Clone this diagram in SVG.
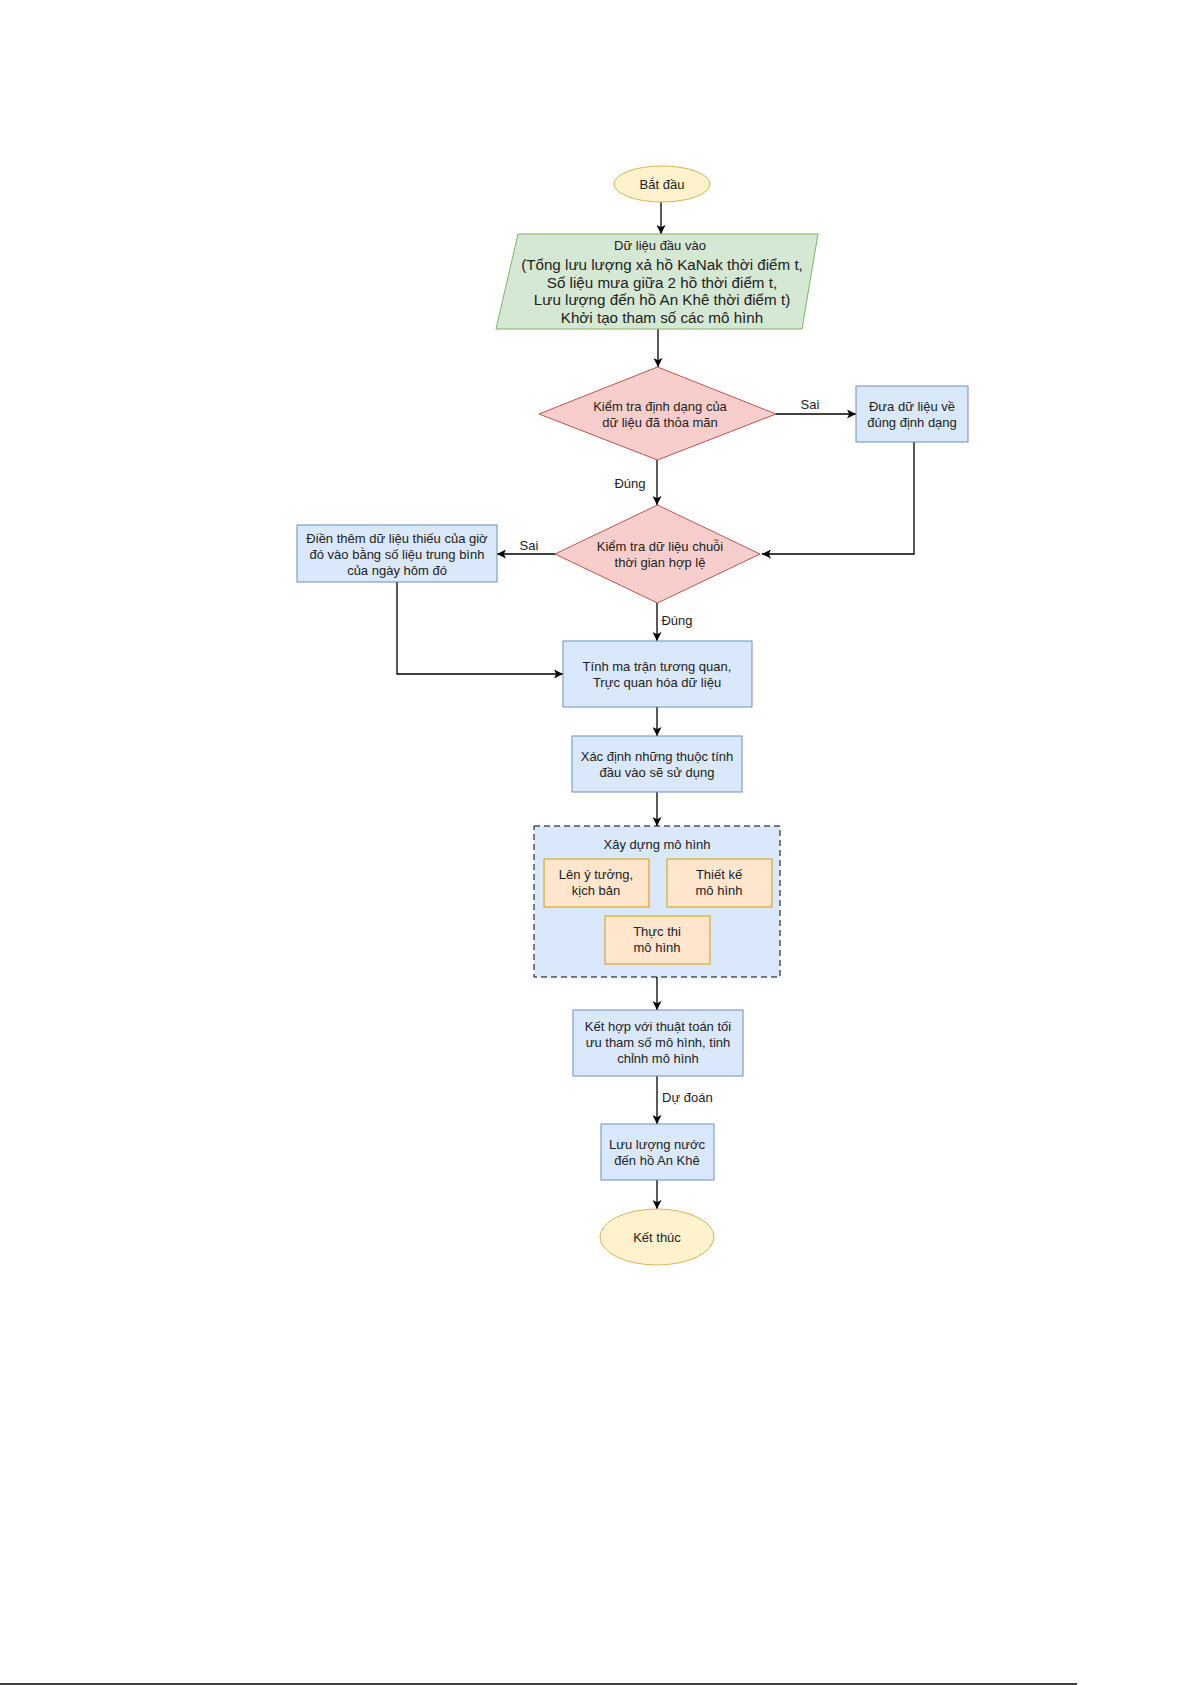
<svg xmlns="http://www.w3.org/2000/svg" width="1192" height="1685" viewBox="0 0 1192 1685">
<defs>
<marker id="arr" viewBox="0 0 10 10" refX="10" refY="5" markerWidth="9" markerHeight="9" markerUnits="userSpaceOnUse" orient="auto">
<path d="M0,0 L10,5 L0,10 L2.5,5 Z" fill="#000"/>
</marker>
<style>
text{font-family:"Liberation Sans",Arial,sans-serif;font-size:13px;fill:#222;text-anchor:middle}
.big{font-size:15.2px}
.lbl{font-size:13px}
.yel{fill:#fff2cc;stroke:#d6b656;stroke-width:1}
.grn{fill:#d5e8d4;stroke:#82b366;stroke-width:1}
.red{fill:#f8cecc;stroke:#b85450;stroke-width:1}
.blu{fill:#dae8fc;stroke:#6c8ebf;stroke-width:1}
.org{fill:#ffe6cc;stroke:#d79b00;stroke-width:1}
.cont{fill:#dae8fc;stroke:#000;stroke-width:1;stroke-dasharray:6,4}
.c{fill:none;stroke:#000;stroke-width:1.3;marker-end:url(#arr)}
</style>
</defs>
<rect width="1192" height="1685" fill="#fff"/>

<g id="connectors">
<path class="c" d="M661,202 V234"/>
<path class="c" d="M658,329 V367"/>
<path class="c" d="M776,414 H856"/>
<path class="c" d="M657,460 V505"/>
<path class="c" d="M914,442 V554 H762"/>
<path class="c" d="M555,554 H497"/>
<path class="c" d="M657,603 V641"/>
<path class="c" d="M397,582 V674 H563"/>
<path class="c" d="M657,707 V736"/>
<path class="c" d="M657,792 V826"/>
<path class="c" d="M657,977 V1010"/>
<path class="c" d="M657,1076 V1124"/>
<path class="c" d="M657,1180 V1209"/>
<text class="lbl" x="810" y="409">Sai</text>
<text class="lbl" x="630" y="488">Đúng</text>
<text class="lbl" x="529" y="550">Sai</text>
<text class="lbl" x="677" y="625">Đúng</text>
<text class="lbl" x="662" y="1102" style="text-anchor:start">Dự đoán</text>
</g>

<g id="start">
<ellipse class="yel" cx="662" cy="184" rx="48" ry="18"/>
<text x="662" y="189">Bắt đầu</text>
</g>

<g id="input">
<polygon class="grn" points="518,234 818,234 802,329 496,329"/>
<text x="660" y="250">Dữ liệu đầu vào</text>
<text class="big" x="662" y="270">(Tổng lưu lượng xả hồ KaNak thời điểm t,</text>
<text class="big" x="662" y="288">Số liệu mưa giữa 2 hồ thời điểm t,</text>
<text class="big" x="662" y="305">Lưu lượng đến hồ An Khê thời điểm t)</text>
<text class="big" x="662" y="323">Khởi tạo tham số các mô hình</text>
</g>

<g id="check-format">
<polygon class="red" points="657.5,367 776,414 657.5,460 539,414"/>
<text x="660" y="411">Kiểm tra định dạng của</text>
<text x="660" y="427">dữ liệu đã thỏa mãn</text>
</g>

<g id="fix-format">
<rect class="blu" x="856" y="386" width="112" height="56"/>
<text x="912" y="411">Đưa dữ liệu về</text>
<text x="912" y="427">đúng định dạng</text>
</g>

<g id="check-series">
<polygon class="red" points="657.5,505 760,554 657.5,603 555,554"/>
<text x="660" y="551">Kiểm tra dữ liệu chuỗi</text>
<text x="660" y="567">thời gian hợp lệ</text>
</g>

<g id="fill-missing">
<rect class="blu" x="297" y="525" width="200" height="57"/>
<text x="397" y="543">Điền thêm dữ liệu thiếu của giờ</text>
<text x="397" y="559">đó vào bằng số liệu trung bình</text>
<text x="397" y="575">của ngày hôm đó</text>
</g>

<g id="correlation">
<rect class="blu" x="563" y="641" width="189" height="66"/>
<text x="657" y="671">Tính ma trận tương quan,</text>
<text x="657" y="687">Trực quan hóa dữ liệu</text>
</g>

<g id="features">
<rect class="blu" x="572" y="736" width="170" height="56"/>
<text x="657" y="761">Xác định những thuộc tính</text>
<text x="657" y="777">đầu vào sẽ sử dụng</text>
</g>

<g id="build-model">
<rect class="cont" x="534" y="826" width="246" height="151"/>
<text x="657" y="849">Xây dựng mô hình</text>
</g>

<g id="idea">
<rect class="org" x="544" y="859" width="105" height="48"/>
<text x="596" y="879">Lên ý tưởng,</text>
<text x="596" y="895">kịch bản</text>
</g>

<g id="design">
<rect class="org" x="667" y="859" width="105" height="48"/>
<text x="719" y="879">Thiết kế</text>
<text x="719" y="895">mô hình</text>
</g>

<g id="implement">
<rect class="org" x="605" y="916" width="105" height="48"/>
<text x="657" y="936">Thực thi</text>
<text x="657" y="952">mô hình</text>
</g>

<g id="optimize">
<rect class="blu" x="573" y="1010" width="170" height="66"/>
<text x="658" y="1031">Kết hợp với thuật toán tối</text>
<text x="658" y="1047">ưu tham số mô hình, tinh</text>
<text x="658" y="1063">chỉnh mô hình</text>
</g>

<g id="output">
<rect class="blu" x="601" y="1124" width="113" height="56"/>
<text x="657" y="1149">Lưu lượng nước</text>
<text x="657" y="1165">đến hồ An Khê</text>
</g>

<g id="end">
<ellipse class="yel" cx="657" cy="1237" rx="57" ry="28"/>
<text x="657" y="1242">Kết thúc</text>
</g>

<line x1="0" y1="1684" x2="1077" y2="1684" stroke="#000" stroke-width="1.5"/>
</svg>
